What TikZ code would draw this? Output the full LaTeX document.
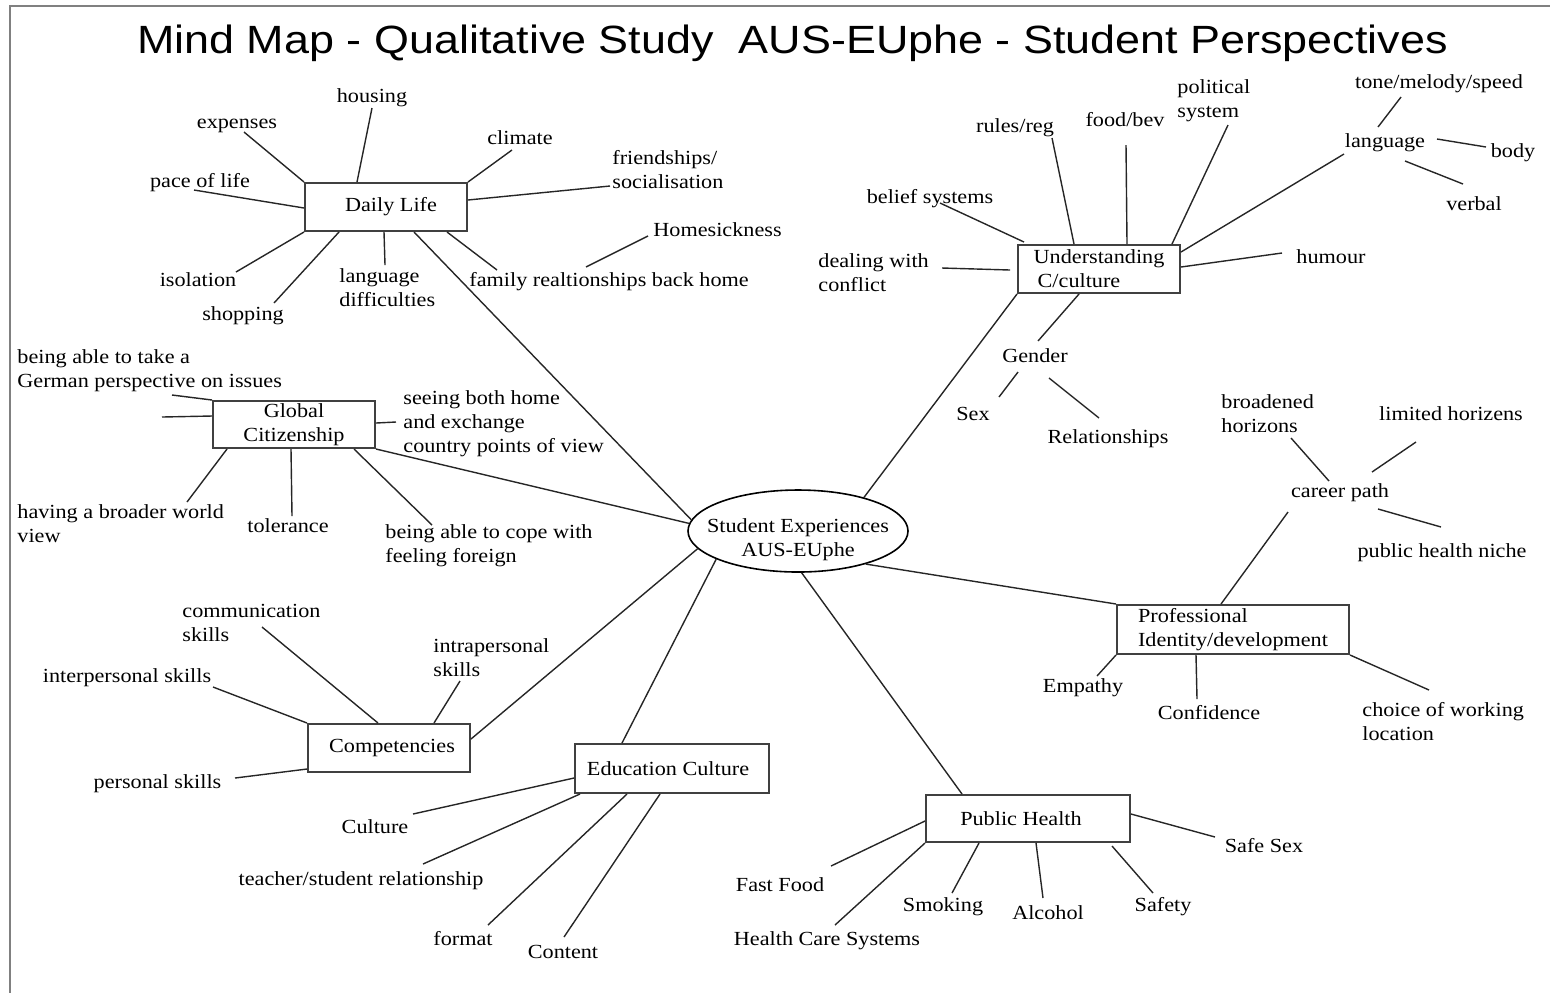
\documentclass[tikz,border=0pt]{standalone}
\usepackage{fontspec}
\setmainfont{Liberation Serif}[FakeStretch=1.11]
\newfontfamily\titlefont{Liberation Sans}[FakeStretch=1.14]
\usetikzlibrary{shapes.geometric}
\newcommand\lblfont{\fontsize{10}{12}\selectfont}
\newcommand\mlines[1]{\begin{tabular}[t]{@{}l@{}}#1\end{tabular}}
\newcommand\mlinesc[1]{\begin{tabular}[t]{@{}c@{}}#1\end{tabular}}
\begin{document}
\begin{tikzpicture}[x=0.5pt,y=-0.5pt,
  lbl/.style={inner sep=0pt,font=\lblfont,anchor=base},
  lblw/.style={inner sep=0pt,font=\lblfont,anchor=base west},
  box/.style={draw=black!75,line width=1pt,inner sep=0pt,font=\lblfont,align=center},
  con/.style={line width=0.7pt,draw=black!85},
  frameline/.style={draw=gray,line width=1.4pt}]
\useasboundingbox (0,0) rectangle (1550,993);
% frame
\draw[frameline] (9,6) -- (1550,6);
\draw[frameline] (10,6) -- (10,993);
% title
\node[inner sep=0pt,anchor=base,font=\titlefont\fontsize{19.7}{24}\selectfont] (title) at (792.5,53)
  {Mind Map - Qualitative Study\ \ AUS-EUphe - Student Perspectives};

% central ellipse
\node[ellipse,draw,line width=0.8pt,minimum width=110pt,minimum height=41pt,inner sep=0pt] (se) at (798,531) {};
\node[lbl] (set) at (798,532) {\mlinesc{Student Experiences\\AUS-EUphe}};

% boxes
\node[box,minimum width=81pt,minimum height=24pt] (dl) at (386,207) {\hspace*{5pt}Daily Life};
\node[box,minimum width=81pt,minimum height=23.5pt] (gc) at (294,424.5) {Global\\Citizenship};
\node[box,minimum width=81pt,minimum height=24pt] (comp) at (389,748) {\hspace*{3pt}Competencies};
\node[box,minimum width=97pt,minimum height=24.5pt] (edu) at (672,768.5) {Education Culture\hspace*{4pt}};
\node[box,minimum width=102pt,minimum height=23.5pt] (ph) at (1028,818.5) {Public Health\hspace*{7pt}};
\node[box,align=left,minimum width=116pt,minimum height=24.5pt] (pid) at (1233,629.5) {Professional\\Identity/development};
\node[box,align=left,minimum width=81pt,minimum height=24pt] (uc) at (1099,269) {Understanding\\\hspace*{2pt}C/culture};

% main connectors
\draw[con] (dl.south west) ++(110,0) -- (se.174);
\draw[con] (gc.south east) -- (se.176);
\draw[con] (comp.north east) ++(0,16) -- (se.190.6);
\draw[con] (edu.north west) ++(48,0) -- (se.199.7);
\draw[con] (ph.north west) ++(37,0) -- (se.275);
\draw[con] (pid.north west) -- (se.334);
\draw[con] (uc.south west) -- (se.27);

% ---------- Daily Life ----------
\node[lbl] (housing) at (372,102) {housing};
\node[lbl] (expenses) at (237,128) {expenses};
\node[lbl] (climate) at (520,144) {climate};
\node[lblw] (friend) at (612,164) {\mlines{friendships/\\socialisation}};
\node[lbl] (pace) at (200,187) {pace of life};
\node[lblw] (homesick) at (653,236) {Homesickness};
\node[lbl] (isolation) at (198,286) {isolation};
\node[lbl] (shopping) at (243,320) {shopping};
\node[lblw] (langdiff) at (339,282) {\mlines{language\\difficulties}};
\node[lblw] (family) at (469,286) {family realtionships back home};
\coordinate (e-hous) at (372,108);
\coordinate (e-exp) at (244,132);
\coordinate (e-clim) at (512,150);
\coordinate (e-friend) at (610,186);
\coordinate (e-pace) at (194,190);
\coordinate (e-iso) at (236,272);
\coordinate (e-shop) at (274,303);
\coordinate (e-lang) at (385,265);
\coordinate (e-fam) at (497,270);
\coordinate (h-a) at (586,267);
\coordinate (h-b) at (648,236);
\draw[con] (dl.north west) ++(53,0) -- (e-hous);
\draw[con] (dl.north west) -- (e-exp);
\draw[con] (dl.north east) -- (e-clim);
\draw[con] (dl.north east) ++(0,18) -- (e-friend);
\draw[con] (dl.north west) ++(0,26) -- (e-pace);
\draw[con] (dl.south west) -- (e-iso);
\draw[con] (dl.south west) ++(35,0) -- (e-shop);
\draw[con] (dl.south west) ++(80,0) -- (e-lang);
\draw[con] (dl.south west) ++(143,0) -- (e-fam);
\draw[con] (h-a) -- (h-b);

% ---------- Global Citizenship ----------
\node[lblw] (german) at (17,363) {\mlines{being able to take a\\German perspective on issues}};
\node[lblw] (seeing) at (403,404) {\mlines{seeing both home\\and exchange\\country points of view}};
\node[lblw] (broader) at (17,518) {\mlines{having a broader world\\view}};
\node[lbl] (tolerance) at (288,532) {tolerance};
\node[lblw] (cope) at (385,538) {\mlines{being able to cope with\\feeling foreign}};
\coordinate (e-germ) at (172,395);
\coordinate (e-dang) at (162,417);
\coordinate (e-see) at (396,422);
\coordinate (e-broad) at (187,502);
\coordinate (e-tol) at (292,516);
\coordinate (e-cope) at (432,525);
\draw[con] (gc.north west) -- (e-germ);
\draw[con] (gc.north west) ++(0,16) -- (e-dang);
\draw[con] (gc.north east) ++(0,23) -- (e-see);
\draw[con] (gc.south west) ++(15,0) -- (e-broad);
\draw[con] (gc.south west) ++(79,0) -- (e-tol);
\draw[con] (gc.south west) ++(142,0) -- (e-cope);

% ---------- Competencies ----------
\node[lblw] (commun) at (182,617) {\mlines{communication\\skills}};
\node[lblw] (intra) at (433,652) {\mlines{intrapersonal\\skills}};
\node[lbl] (inter) at (127,682) {interpersonal skills};
\node[lbl] (personal) at (157.5,788) {personal skills};
\coordinate (e-comm) at (262,627);
\coordinate (e-inter) at (213,687);
\coordinate (e-intra) at (460,681);
\coordinate (e-pers) at (235,778);
\draw[con] (comp.north west) ++(71,0) -- (e-comm);
\draw[con] (comp.north west) -- (e-inter);
\draw[con] (comp.north west) ++(127,0) -- (e-intra);
\draw[con] (comp.south west) ++(0,-4) -- (e-pers);

% ---------- Education Culture ----------
\node[lbl] (culture) at (375,833) {Culture};
\node[lbl] (teacher) at (361,885) {teacher/student relationship};
\node[lbl] (format) at (463,945) {format};
\node[lbl] (content) at (563,958) {Content};
\coordinate (e-cult) at (413,814);
\coordinate (e-teach) at (423,864);
\coordinate (e-form) at (488,925);
\coordinate (e-cont) at (564,937);
\draw[con] (edu.north west) ++(0,35) -- (e-cult);
\draw[con] (edu.south west) ++(6,0) -- (e-teach);
\draw[con] (edu.south west) ++(53,0) -- (e-form);
\draw[con] (edu.south west) ++(86,0) -- (e-cont);

% ---------- Public Health ----------
\node[lbl] (fastfood) at (780,891) {Fast Food};
\node[lbl] (hcs) at (827,945) {Health Care Systems};
\node[lbl] (smoking) at (943,911) {Smoking};
\node[lbl] (alcohol) at (1048,919) {Alcohol};
\node[lbl] (safety) at (1163,911) {Safety};
\node[lbl] (safesex) at (1264,852) {Safe Sex};
\coordinate (e-ff) at (831,866);
\coordinate (e-hcs) at (835,925);
\coordinate (e-smok) at (952,893);
\coordinate (e-alc) at (1043,898);
\coordinate (e-saf) at (1153,893);
\coordinate (e-ss) at (1215,837);
\draw[con] (ph.north west) ++(0,27) -- (e-ff);
\draw[con] (ph.south west) -- (e-hcs);
\draw[con] (ph.south west) ++(54,0) -- (e-smok);
\draw[con] (ph.south west) ++(111,0) -- (e-alc);
\draw[con] (ph.south west) ++(187,3) -- (e-saf);
\draw[con] (ph.north east) ++(0,20) -- (e-ss);

% ---------- Professional Identity ----------
\node[lbl] (empathy) at (1083,692) {Empathy};
\node[lbl] (confidence) at (1209,719) {Confidence};
\node[lblw] (choice) at (1362,716) {\mlines{choice of working\\location}};
\node[lbl] (career) at (1340,497) {career path};
\node[lblw] (broadened) at (1221,408) {\mlines{broadened\\horizons}};
\node[lbl] (limited) at (1451,420) {limited horizens};
\node[lbl] (phniche) at (1442,557) {public health niche};
\coordinate (e-car) at (1288,512);
\coordinate (e-emp) at (1097,676);
\coordinate (e-conf) at (1197,699);
\coordinate (e-choice) at (1429,690);
\coordinate (b-a) at (1291,438);
\coordinate (b-b) at (1329,481);
\coordinate (l-a) at (1372,472);
\coordinate (l-b) at (1416,442);
\coordinate (n-a) at (1378,509);
\coordinate (n-b) at (1441,527);
\draw[con] (pid.north west) ++(105,0) -- (e-car);
\draw[con] (pid.south west) -- (e-emp);
\draw[con] (pid.south west) ++(80,0) -- (e-conf);
\draw[con] (pid.south east) -- (e-choice);
\draw[con] (b-a) -- (b-b);
\draw[con] (l-a) -- (l-b);
\draw[con] (n-a) -- (n-b);

% ---------- Understanding C/culture ----------
\node[lbl] (gender) at (1035,362) {Gender};
\node[lbl] (sex) at (973,420) {Sex};
\node[lbl] (relat) at (1108,443) {Relationships};
\node[lbl] (belief) at (930,203) {belief systems};
\node[lblw] (dealing) at (818,267) {\mlines{dealing with\\conflict}};
\node[lbl] (rules) at (1015,132) {rules/reg};
\node[lbl] (food) at (1125,126) {food/bev};
\node[lblw] (political) at (1177,93) {\mlines{political\\system}};
\node[lbl] (language) at (1385,147) {language};
\node[lbl] (tone) at (1439,88) {tone/melody/speed};
\node[lbl] (body) at (1513,157) {body};
\node[lbl] (verbal) at (1474,210) {verbal};
\node[lbl] (humour) at (1331,263) {humour};
\coordinate (e-gend) at (1038,341);
\coordinate (s-a) at (1018,372);
\coordinate (s-b) at (999,397);
\coordinate (r-a) at (1049,378);
\coordinate (r-b) at (1099,418);
\coordinate (e-bel) at (940,203);
\coordinate (e-deal) at (942,268);
\coordinate (e-rules) at (1052,138);
\coordinate (e-food) at (1126,145);
\coordinate (e-pol) at (1228,125);
\coordinate (e-lang2) at (1344,154);
\coordinate (e-hum) at (1282,253);
\coordinate (t-a) at (1378,127);
\coordinate (t-b) at (1401,97);
\coordinate (bo-a) at (1437,139);
\coordinate (bo-b) at (1486,147);
\coordinate (v-a) at (1405,161);
\coordinate (v-b) at (1463,184);
\draw[con] (uc.south west) ++(62,0) -- (e-gend);
\draw[con] (s-a) -- (s-b);
\draw[con] (r-a) -- (r-b);
\draw[con] (uc.north west) ++(7,-2) -- (e-bel);
\draw[con] (uc.west) ++(-7,1) -- (e-deal);
\draw[con] (uc.north west) ++(57,0) -- (e-rules);
\draw[con] (uc.north west) ++(110,0) -- (e-food);
\draw[con] (uc.north west) ++(155,0) -- (e-pol);
\draw[con] (uc.north east) ++(0,8) -- (e-lang2);
\draw[con] (uc.north east) ++(0,23) -- (e-hum);
\draw[con] (t-a) -- (t-b);
\draw[con] (bo-a) -- (bo-b);
\draw[con] (v-a) -- (v-b);
\end{tikzpicture}
\end{document}
